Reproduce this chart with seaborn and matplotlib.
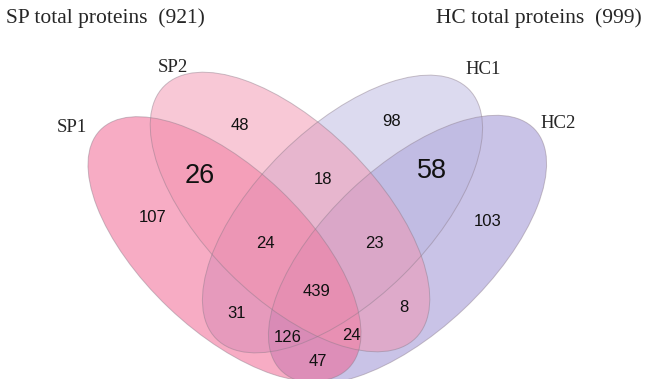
import numpy as np
import matplotlib
matplotlib.use("Agg")
import matplotlib.pyplot as plt
from matplotlib.patches import Ellipse
import seaborn as sns

# sets and region counts (membership code: SP1 SP2 HC1 HC2)
set_names = ['SP1', 'SP2', 'HC1', 'HC2']
region_codes = ['1000', '0100', '0010', '0001', '1100', '0011', '0110', '1110',
                '0111', '1111', '1010', '0101', '1011', '1101', '1001']
region_counts = [107, 48, 98, 103, 26, 58, 18, 24, 23, 439, 31, 8, 126, 24, 47]
group_names = ['SP', 'HC']

# layout (pixel space of the 645x379 picture)
ell_center = {'SP1': (224.5, 249.0), 'SP2': (290.0, 212.0),
              'HC1': (342.5, 214.0), 'HC2': (407.5, 249.5)}
ell_axes = {'SP1': (344, 162), 'SP2': (356, 172), 'HC1': (355, 172), 'HC2': (350, 164)}
ell_angle = {'SP1': 43.6, 'SP2': 45.0, 'HC1': 135.4, 'HC2': 136.6}
ell_color = {'SP1': '#F15B8B', 'SP2': '#F393AF', 'HC1': '#BBB7E1', 'HC2': '#9589D1'}
draw_order = ['HC2', 'HC1', 'SP1', 'SP2']
name_pos = {'SP1': (72, 128), 'SP2': (173, 67), 'HC1': (483, 70), 'HC2': (558, 123)}
count_pos = {'1000': (153, 218), '0100': (240, 125), '0010': (392, 122), '0001': (488, 221),
             '1100': (200, 176), '0011': (432, 171), '0110': (323, 180), '1110': (265, 243),
             '0111': (374, 243), '1111': (317, 292), '1010': (237, 313), '0101': (404, 308),
             '1011': (288, 337), '1101': (351, 336), '1001': (318, 362)}
big_regions = ['1100', '0011']

sns.set_theme(style='white')
serif = ['Liberation Serif', 'DejaVu Serif']
sans = ['Liberation Sans', 'DejaVu Sans']

fig, ax = plt.subplots(figsize=(6.45, 3.79), dpi=100)
fig.subplots_adjust(0, 0, 1, 1)
ax.set_xlim(0, 645)
ax.set_ylim(379, 0)
ax.set_axis_off()

for name in draw_order:
    w, h = ell_axes[name]
    ax.add_patch(Ellipse(ell_center[name], w, h, angle=ell_angle[name],
                         facecolor=ell_color[name], alpha=0.5, edgecolor='none'))
for name in draw_order:
    w, h = ell_axes[name]
    ax.add_patch(Ellipse(ell_center[name], w, h, angle=ell_angle[name],
                         fill=False, edgecolor='#8a7a88', lw=0.7, alpha=0.45))

for name in set_names:
    ax.text(*name_pos[name], name, fontsize=13.5, family=serif, ha='center', va='center')

for code, n in zip(region_codes, region_counts):
    big = code in big_regions
    ax.text(*count_pos[code], str(n), fontsize=19.5 if big else 12, family=sans,
            ha='center', va='center', color='#111111')

# group totals
sp_total = sum(n for c, n in zip(region_codes, region_counts) if c[0] == '1' or c[1] == '1')
hc_total = sum(n for c, n in zip(region_codes, region_counts) if c[2] == '1' or c[3] == '1')
ax.text(6, 18, f'{group_names[0]} total proteins  ({sp_total})', fontsize=15.5,
        family=serif, ha='left', va='center')
ax.text(642, 18, f'{group_names[1]} total proteins  ({hc_total})', fontsize=15.5,
        family=serif, ha='right', va='center')

fig.savefig('out.png', dpi=100)
